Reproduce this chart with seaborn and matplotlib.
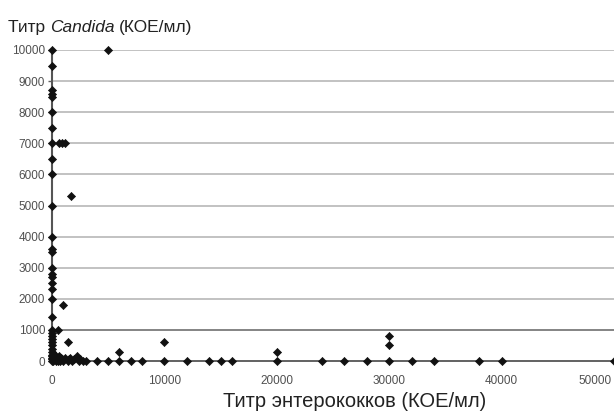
import numpy as np
import pandas as pd
import matplotlib
matplotlib.use('Agg')
import matplotlib.pyplot as plt
import matplotlib.transforms as mtransforms
import seaborn as sns

# enterococci titre (x) vs Candida titre (y), CFU/ml
entero = [
    # on the y axis
    0, 0, 0, 0, 0, 0, 0, 0, 0, 0, 0, 0, 0, 0, 0, 0, 0, 0, 0, 0, 0,
    0, 0, 0, 0, 0, 0, 0, 0, 0, 0, 0, 0, 0,
    # upper scattered points
    5000, 600, 900, 1200, 1700, 1000, 1400, 500,
    # cluster near origin
    100, 200, 300, 400, 500, 600, 700, 800, 900, 1000, 1200, 1400, 1500,
    1600, 1800, 2000, 2200, 2400, 2500, 2800, 200, 300, 400, 150, 250,
    # on the x axis
    3000, 4000, 5000, 6000, 6000, 7000, 8000, 10000, 10000, 12000, 14000,
    15000, 16000, 20000, 20000, 24000, 26000, 28000, 30000, 30000, 30000,
    32000, 34000, 38000, 40000, 50000,
]
candida = [
    10000, 9500, 8700, 8600, 8500, 8000, 7500, 7000, 6500, 6000, 5000, 4000,
    3600, 3500, 3000, 2800, 2700, 2500, 2300, 2000, 1400,
    1000, 900, 800, 700, 600, 500, 400, 300, 200, 100, 50, 0, 150,
    10000, 7000, 7000, 7000, 5300, 1800, 600, 1000,
    0, 100, 50, 100, 0, 150, 0, 100, 50, 0, 100, 0, 50,
    100, 0, 50, 150, 0, 50, 0, 150, 200, 0, 50, 100,
    0, 0, 0, 0, 300, 0, 0, 0, 600, 0, 0,
    0, 0, 0, 300, 0, 0, 0, 0, 500, 800,
    0, 0, 0, 0, 0,
]
df = pd.DataFrame({'entero': entero, 'candida': candida})

x_ticks = [0, 10000, 20000, 30000, 40000, 50000]
y_ticks = list(range(0, 10001, 1000))

plt.rcParams['font.family'] = ['Liberation Sans', 'DejaVu Sans']

fig = plt.figure(figsize=(6.14, 4.16), dpi=100)
ax = fig.add_axes([52 / 614, 1 - 361 / 416, 562 / 614, 311 / 416])

for yv in y_ticks[1:]:
    ax.axhline(yv, color='#707070' if yv == 1000 else '#b8b8b8', lw=1.2, zorder=1)

sns.scatterplot(data=df, x='entero', y='candida', marker='D', s=17,
                color='#111111', edgecolor='#111111', linewidth=0.5,
                ax=ax, zorder=3, clip_on=False)

ax.set_xlim(0, 50000)
ax.set_ylim(0, 10000)
ax.set_xticks(x_ticks)
ax.set_xticklabels([str(t) for t in x_ticks])
ax.set_yticks(y_ticks)
ax.set_yticklabels([str(t) for t in y_ticks])
ax.tick_params(axis='y', length=3, width=1, color='#606060', labelsize=8.5,
               labelcolor='#505050', pad=2)
ax.tick_params(axis='x', length=0, labelsize=8.5, labelcolor='#505050', pad=10)

# last x label sits inside the figure edge
last = ax.get_xticklabels()[-1]
last.set_horizontalalignment('right')
last.set_transform(last.get_transform() +
                   mtransforms.ScaledTranslation(-2 / 100, 0, fig.dpi_scale_trans))

for side in ['top', 'right']:
    ax.spines[side].set_visible(False)
ax.spines['left'].set_color('#555555')
ax.spines['left'].set_linewidth(1.5)
ax.spines['bottom'].set_color('#555555')
ax.spines['bottom'].set_linewidth(1.3)
ax.set_xlabel('')
ax.set_ylabel('')

# title with italic genus name, built from pieces
ty = 1 - 32 / 416
t1 = fig.text(8 / 614, ty, 'Титр ', fontsize=12.5, color='#222222', va='baseline')
fig.canvas.draw()
r = fig.canvas.get_renderer()
bb = t1.get_window_extent(r)
t2 = fig.text(bb.x1 / fig.bbox.width, ty, 'Candida', fontsize=12.5,
              style='italic', color='#222222', va='baseline')
bb2 = t2.get_window_extent(r)
fig.text(bb2.x1 / fig.bbox.width + 4 / 614, ty, '(КОЕ/мл)', fontsize=12.5,
         color='#222222', va='baseline')

fig.text(355 / 614, 1 - 407 / 416, 'Титр энтерококков (КОЕ/мл)', fontsize=14.5,
         color='#222222', ha='center', va='baseline')

fig.savefig('out.png', dpi=100)
